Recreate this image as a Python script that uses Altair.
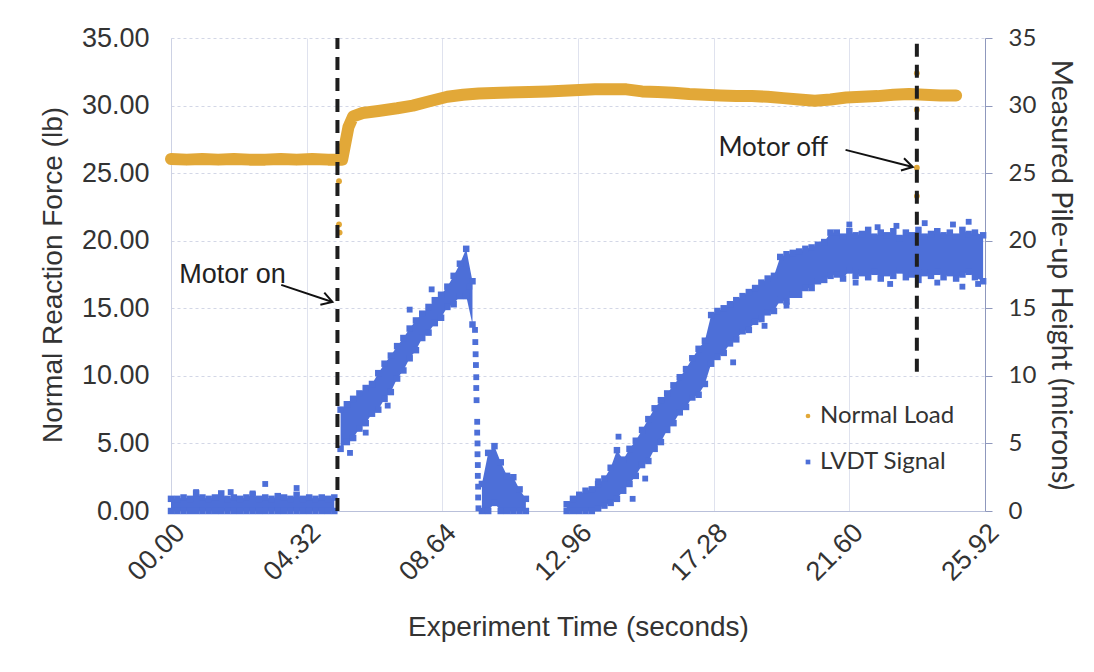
import altair as alt
import pandas as pd

# ---------------- data ----------------
# LVDT scatter band: segment id, time (s), lower / upper edge of the cloud of points (microns)
lvdt_seg = [0] * 27 + [1] * 22 + [2] * 8 + [3] * 67
lvdt_t = [0.0, 0.2, 0.4, 0.6, 0.8, 1.0, 1.2, 1.4, 1.6, 1.8, 2.0, 2.2, 2.4, 2.6, 2.8,
          3.0, 3.2, 3.4, 3.6, 3.8, 4.0, 4.2, 4.4, 4.6, 4.8, 5.0, 5.2,
          5.4, 5.6, 5.8, 6.0, 6.2, 6.4, 6.6, 6.8, 7.0, 7.2, 7.4, 7.6, 7.8, 8.0,
          8.2, 8.4, 8.6, 8.8, 9.0, 9.2, 9.4, 9.6,
          9.9, 10.1, 10.3, 10.5, 10.7, 10.9, 11.1, 11.3,
          12.6, 12.8, 13.0, 13.2, 13.4, 13.6, 13.8, 14.0, 14.2, 14.4, 14.6, 14.8,
          15.0, 15.2, 15.4, 15.6, 15.8, 16.0, 16.2, 16.4, 16.6, 16.8, 17.0, 17.2,
          17.4, 17.6, 17.8, 18.0, 18.2, 18.4, 18.6, 18.8, 19.0, 19.2, 19.4, 19.6,
          19.8, 20.0, 20.2, 20.4, 20.6, 20.8, 21.0, 21.2, 21.4, 21.6, 21.8, 22.0,
          22.2, 22.4, 22.6, 22.8, 23.0, 23.2, 23.4, 23.6, 23.8, 24.0, 24.2, 24.4,
          24.6, 24.8, 25.0, 25.2, 25.4, 25.6, 25.86]
lvdt_lo = [0.0, 0.0, 0.0, 0.0, 0.0, 0.0, 0.0, 0.0, 0.0, 0.0, 0.0, 0.0, 0.0, 0.0, 0.0,
           0.0, 0.0, 0.0, 0.0, 0.0, 0.0, 0.0, 0.0, 0.0, 0.0, 0.0, 0.0,
           4.6, 5.1, 5.4, 6.1, 6.5, 7.2, 7.5, 8.3, 8.8, 9.8, 10.4, 11.3, 11.9, 12.8,
           13.2, 13.9, 14.3, 15.1, 15.3, 15.9, 15.9, 13.8,
           0.0, 0.0, 0.6, 0.0, 0.0, 0.0, 0.0, 0.0,
           0.0, 0.0, 0.0, 0.0, 0.0, 0.2, 0.4, 0.6, 0.9, 1.5, 2.0, 2.6,
           3.4, 3.7, 4.6, 5.1, 6.0, 6.5, 7.3, 7.7, 8.4, 8.6, 9.4, 10.9,
           11.4, 11.7, 12.4, 12.7, 13.3, 13.4, 14.0, 14.2, 14.7, 14.8, 15.6, 15.5,
           16.0, 16.0, 16.5, 16.5, 17.0, 17.1, 17.4, 17.5, 17.2, 17.8, 17.4, 17.6,
           17.3, 17.7, 17.2, 17.6, 17.4, 17.8, 17.3, 17.5, 17.1, 17.6, 17.4, 17.7,
           17.3, 17.6, 17.2, 17.5, 17.7, 17.3, 17.0]
lvdt_hi = [0.9, 0.9, 1.0, 0.9, 1.3, 1.0, 0.9, 1.0, 1.3, 0.9, 1.0, 0.9, 1.0, 1.2, 0.9,
           1.0, 0.9, 1.1, 1.0, 0.9, 1.2, 0.9, 1.0, 0.9, 1.0, 0.9, 1.0,
           7.5, 7.9, 8.3, 8.7, 9.1, 9.4, 10.2, 10.9, 11.5, 12.2, 12.8, 13.5, 14.1, 14.6,
           15.1, 15.6, 16.0, 16.6, 17.4, 18.3, 19.4, 17.0,
           2.0, 4.3, 4.8, 3.6, 2.6, 2.5, 1.6, 0.9,
           0.5, 0.9, 1.2, 1.5, 1.6, 2.0, 2.4, 3.2, 4.5, 3.8, 4.6, 5.2,
           6.0, 6.8, 7.6, 8.2, 8.7, 9.3, 9.9, 10.5, 11.3, 12.0, 12.6, 14.5,
           14.8, 15.0, 15.3, 15.6, 15.9, 16.2, 16.5, 16.9, 17.2, 17.4, 18.8, 19.0,
           19.1, 19.2, 19.4, 19.5, 19.7, 19.9, 20.6, 20.6, 20.3, 20.7, 20.4, 20.5,
           20.8, 20.3, 20.6, 20.4, 20.7, 20.2, 20.6, 20.4, 20.8, 20.3, 20.5, 20.7,
           20.4, 20.6, 20.3, 20.8, 20.5, 20.6, 20.4]

# isolated LVDT points
lvdt_pt_t = [0.8, 1.9, 2.6, 3.0, 4.0, 5.7, 6.2, 6.9, 7.6, 8.3, 9.5,
             9.68, 9.69, 9.70, 9.71, 9.72, 9.72, 9.73, 9.75, 9.75, 9.76, 9.76, 9.77, 9.77,
             9.78, 9.78, 9.79,
             13.6, 14.25, 14.7, 15.1, 17.9, 18.9, 19.6,
             21.6, 22.5, 23.1, 24.0, 24.9, 25.4, 21.8, 22.9, 24.4, 25.2, 25.7]
lvdt_pt_v = [1.4, 1.4, 1.3, 2.0, 1.7, 4.3, 5.8, 7.8, 14.9, 16.4, 16.6,
             13.4, 12.5, 11.6, 10.8, 9.9, 9.1, 8.2, 6.6, 5.8, 5.0, 4.2, 3.4, 2.6,
             1.8, 1.0, 0.2,
             2.2, 5.5, 0.9, 2.4, 11.0, 13.7, 15.2,
             21.2, 21.0, 21.1, 21.3, 21.2, 21.4, 16.9, 16.8, 16.9, 16.6, 16.8]

# Normal load (lb), centre of the trace
load_t = [0.0, 0.5, 1.0, 1.5, 2.0, 2.5, 3.0, 3.5, 4.0, 4.5, 5.0, 5.3, 5.45, 5.55, 5.65,
          5.8, 6.1, 6.6, 7.2, 7.7, 8.2, 8.8, 9.3, 9.8, 10.5, 11.4, 12.0, 12.5, 13.0,
          13.5, 14.0, 14.5, 15.0, 15.5, 16.0, 16.5, 17.0, 17.5, 18.0, 18.5, 19.0,
          19.5, 20.0, 20.5, 21.0, 21.5, 22.0, 22.5, 23.0, 23.5, 24.0, 24.5, 25.0]
load_v = [26.05, 26.0, 26.05, 26.0, 26.05, 26.0, 26.0, 26.05, 26.0, 26.05, 26.0, 26.0,
          26.0, 27.2, 28.4, 29.2, 29.45, 29.6, 29.8, 30.0, 30.3, 30.65, 30.8, 30.9,
          30.95, 31.0, 31.05, 31.1, 31.15, 31.2, 31.2, 31.2, 31.05, 31.0, 30.95, 30.85,
          30.8, 30.75, 30.7, 30.7, 30.65, 30.55, 30.45, 30.35, 30.45, 30.6, 30.65, 30.7,
          30.8, 30.85, 30.8, 30.75, 30.75]
# isolated normal-load points
load_pt_t = [5.35, 5.35, 5.37, 23.75, 23.75, 23.75, 23.75]
load_pt_v = [24.4, 21.2, 20.6, 32.4, 29.7, 25.4, 23.3]

# motor on / off markers
motor_t = [5.30, 23.75]
motor_lo = [0.0, 10.3]
motor_hi = [35.0, 35.0]

# annotations
ann_text = ["Motor on", "Motor off"]
ann_t = [0.26, 17.43]
ann_v = [17.47, 26.87]
arrow_t1 = [3.51, 21.48]
arrow_v1 = [16.73, 26.72]
arrow_t2 = [5.14, 23.62]
arrow_v2 = [15.47, 25.46]
arrow_angle = [18, 14]

x_ticks = [0, 4.32, 8.64, 12.96, 17.28, 21.6, 25.92]
y_ticks = [0, 5, 10, 15, 20, 25, 30, 35]
series = ["Normal Load", "LVDT Signal"]
colors = ["#E2A838", "#4D6FD8"]

# ---------------- tables ----------------
lvdt = pd.DataFrame({"seg": lvdt_seg, "t": lvdt_t, "lo": lvdt_lo, "hi": lvdt_hi})
load = pd.DataFrame({"t": load_t, "v": load_v})
pts = pd.DataFrame({
    "t": lvdt_pt_t + load_pt_t,
    "v": lvdt_pt_v + load_pt_v,
    "series": ["LVDT Signal"] * len(lvdt_pt_t) + ["Normal Load"] * len(load_pt_t),
})
motor = pd.DataFrame({"t": motor_t, "lo": motor_lo, "hi": motor_hi})
ann = pd.DataFrame({"t": ann_t, "v": ann_v, "label": ann_text})
arrows = pd.DataFrame({"t": arrow_t1, "v": arrow_v1, "t2": arrow_t2, "v2": arrow_v2,
                       "angle": arrow_angle})

ARIAL = "Liberation Sans"
CAL = "Lato"
TXT = "#333333"

xscale = alt.Scale(domain=[0, 25.92], nice=False, zero=False)
yscale = alt.Scale(domain=[0, 35], nice=False)

xaxis = alt.Axis(values=x_ticks, format="05.2f", labelAngle=-45, labelFont=ARIAL,
                 labelFontSize=27, labelColor=TXT, title="Experiment Time (seconds)",
                 titleFont=ARIAL, titleFontSize=28, titleFontWeight="normal",
                 titleColor=TXT, grid=True, gridColor="#dfe2ee", tickSize=0,
                 domainColor="#b9c0da", labelPadding=8, titlePadding=28)
yleft = alt.Axis(orient="left", values=y_ticks, format=".2f", labelFont=ARIAL,
                 labelFontSize=27, labelColor=TXT, title="Normal Reaction Force (lb)",
                 titleFont=ARIAL, titleFontSize=28, titleFontWeight="normal",
                 titleColor=TXT, grid=True, gridColor="#d3d7e6", gridDash=[3, 3],
                 tickSize=0, domainColor="#cdd2e4", labelPadding=22, titlePadding=14)
yright = alt.Axis(orient="right", values=y_ticks, format="d", labelFont=CAL,
                  labelFontSize=24, labelColor=TXT,
                  title="Measured Pile-up Height (microns)", titleFont=CAL,
                  titleFontSize=28.5, titleFontWeight="normal", titleColor=TXT,
                  grid=False, tickSize=7, tickColor="#8f98bd", domainColor="#8f98bd",
                  labelPadding=16, titlePadding=10)

X = alt.X("t:Q", scale=xscale, axis=xaxis)

# ---------------- right-axis group (LVDT) ----------------
band = alt.Chart(lvdt).mark_area(color=colors[1], opacity=1).encode(
    x=X,
    y=alt.Y("lo:Q", scale=yscale, axis=yright),
    y2="hi:Q",
    detail="seg:N",
)
edges = alt.Chart(lvdt).transform_fold(["lo", "hi"], as_=["edge", "val"]).mark_square(
    color=colors[1], size=42, opacity=1).encode(
    x=X,
    y=alt.Y("val:Q", scale=yscale, axis=yright),
)
points = alt.Chart(pts).mark_point(filled=True, opacity=1, size=34).encode(
    x=X,
    y=alt.Y("v:Q", scale=yscale, axis=yright),
    color=alt.Color("series:N", scale=alt.Scale(domain=series, range=colors),
                    legend=alt.Legend(title=None, orient="none", legendX=625,
                                      legendY=366, labelFont=CAL, labelFontSize=24,
                                      labelColor=TXT, symbolSize=22, rowPadding=22,
                                      labelOffset=0)),
    shape=alt.Shape("series:N", scale=alt.Scale(domain=series,
                                                range=["circle", "square"])),
)
right = alt.layer(band, edges, points)

# ---------------- left-axis group (normal load + annotations) ----------------
line = alt.Chart(load).mark_line(strokeWidth=12, color=colors[0],
                                 strokeCap="round", strokeJoin="round").encode(
    x=X,
    y=alt.Y("v:Q", scale=yscale, axis=yleft),
)
dashes = alt.Chart(motor).mark_rule(strokeWidth=4, color="#1e1e1e",
                                    strokeDash=[13, 8]).encode(
    x=X,
    y=alt.Y("lo:Q", scale=yscale, axis=yleft),
    y2="hi:Q",
)
arrow_lines = alt.Chart(arrows).mark_rule(strokeWidth=2, color="#111111").encode(
    x=X,
    y=alt.Y("v:Q", scale=yscale, axis=yleft),
    x2="t2:Q",
    y2="v2:Q",
)
arrow_heads = alt.Chart(arrows).mark_point(shape="M-1,-0.6L0,0L-1,0.6", filled=False,
                                           strokeWidth=2, color="#111111", size=450,
                                           opacity=1).encode(
    x=alt.X("t2:Q", scale=xscale, axis=xaxis),
    y=alt.Y("v2:Q", scale=yscale, axis=yleft),
    angle=alt.Angle("angle:Q", scale=None),
)
text_on = alt.Chart(ann).transform_filter(alt.datum.label == "Motor on").mark_text(
    align="left", baseline="middle", font=ARIAL, fontSize=27, color="#222222").encode(
    x=X, y=alt.Y("v:Q", scale=yscale, axis=yleft), text="label:N")
text_off = alt.Chart(ann).transform_filter(alt.datum.label == "Motor off").mark_text(
    align="left", baseline="middle", font=CAL, fontSize=26, color="#222222").encode(
    x=X, y=alt.Y("v:Q", scale=yscale, axis=yleft), text="label:N")

left = alt.layer(line, dashes, arrow_lines, arrow_heads, text_on, text_off)

chart = alt.layer(right, left).resolve_scale(y="independent").properties(
    width=814, height=473,
    autosize=alt.AutoSizeParams(type="none"),
    padding={"left": 163, "top": 30, "right": 100, "bottom": 140},
    background="white",
).configure_view(stroke=None)

chart.save("out.html", embed_options={"renderer": "svg", "actions": False})
